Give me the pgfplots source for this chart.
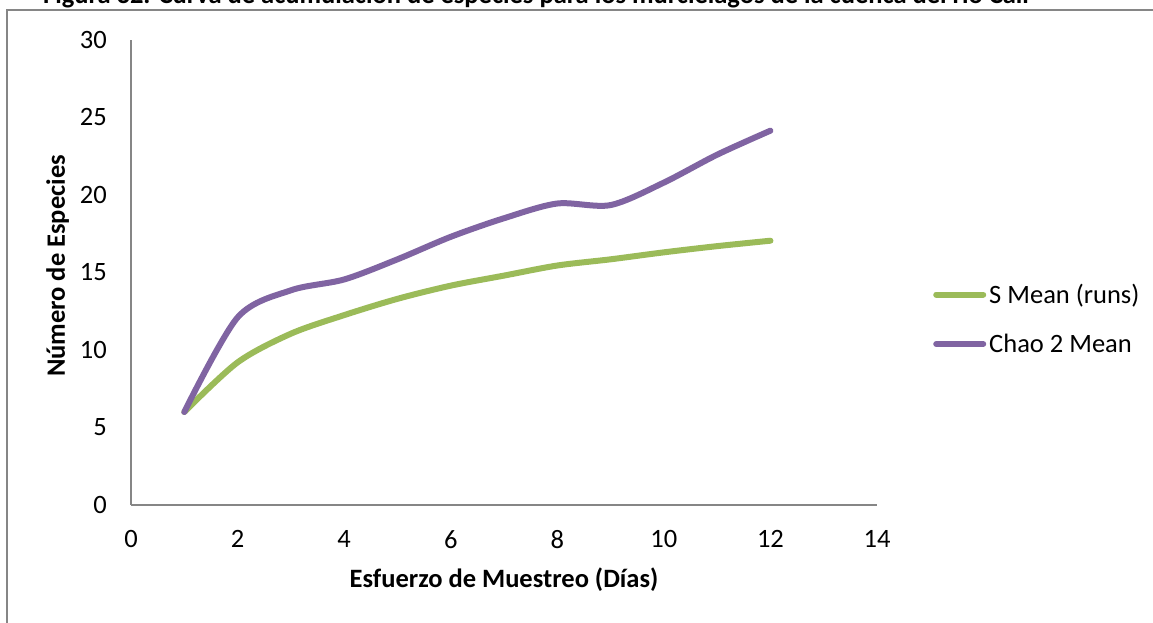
\documentclass[border=0pt]{standalone}
\usepackage{pgfplots}
\pgfplotsset{compat=1.18}
\usepackage{fontspec}
\setmainfont{Carlito}
\definecolor{sgreen}{HTML}{9BBB59}
\definecolor{cpurple}{HTML}{8064A2}
\definecolor{axgray}{HTML}{868686}
\newcommand{\fs}{\fontsize{26.5bp}{31bp}\selectfont}
\begin{document}
\begin{tikzpicture}[x=1bp,y=1bp]
\useasboundingbox (0,0) rectangle (1153,623);
\clip (0,0) rectangle (1153,623);
\draw[axgray, line width=2bp] (7,-5) -- (7,613) -- (1160,613);
\node[anchor=base west, inner sep=0pt, font=\fs\bfseries] at (43,619) {Figura 32. Curva de acumulación de especies para los murciélagos de la cuenca del río Cali};
\begin{axis}[
  at={(131bp,118bp)}, anchor=south west,
  scale only axis, width=746bp, height=465bp,
  xmin=0, xmax=14, ymin=0, ymax=30,
  xtick={0,2,...,14}, ytick={0,5,...,30},
  axis x line*=bottom, axis y line*=left,
  axis line style={-, draw=axgray, line width=1.5bp},
  major tick length=0pt,
  tick style={draw=none},
  /pgf/number format/assume math mode=true,
  ticklabel style={font=\fs, inner sep=0pt},
  yticklabel style={anchor=east, xshift=-24bp},
  xticklabel style={anchor=north, yshift=-25bp},
  xlabel={Esfuerzo de Muestreo (Días)},
  ylabel={Número de Especies},
  label style={font=\fs\bfseries, inner sep=0pt},
  xlabel style={at={(axis description cs:0.5,-0.1785)}, anchor=base},
  ylabel style={at={(axis description cs:-0.0885,0.514)}, anchor=base, rotate=0},
  legend style={at={(1.0751,0.4)}, anchor=west, draw=none, fill=none, inner sep=0pt,
    font=\fs, row sep=29bp, column sep=0bp, nodes={inner sep=0pt}},
  legend cell align=left,
  legend image code/.code={\draw[#1] (0bp,0bp) -- (47bp,0bp); \path (50bp,0bp);},
]
\addplot[sgreen, line width=6bp, line cap=round, line join=round, smooth, tension=0.5] coordinates {
(1,6) (2,9.2) (3,11.05) (4,12.25) (5,13.3) (6,14.15) (7,14.8) (8,15.45) (9,15.85) (10,16.3) (11,16.7) (12,17.05)
};
\addlegendentry{S Mean (runs)}
\addplot[cpurple, line width=6bp, line cap=round, line join=round, smooth, tension=0.5] coordinates {
(1,6) (2,12.1) (3,13.85) (4,14.55) (5,15.85) (6,17.3) (7,18.5) (8,19.45) (9,19.35) (10,20.8) (11,22.6) (12,24.15)
};
\addlegendentry{Chao 2 Mean}
\end{axis}
\end{tikzpicture}
\end{document}
